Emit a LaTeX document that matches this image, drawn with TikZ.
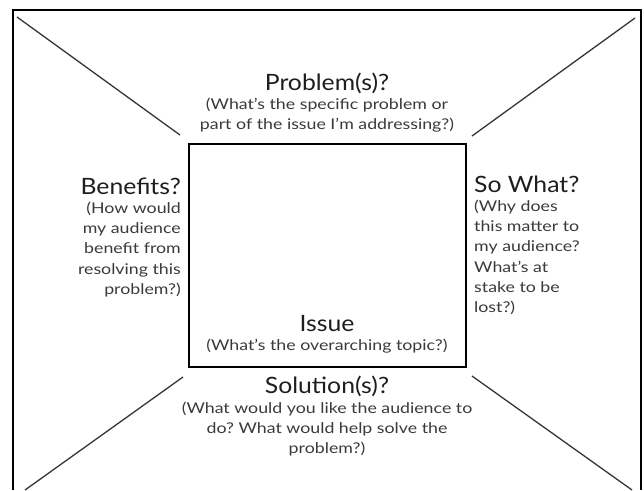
\documentclass[tikz,border=0pt]{standalone}
\usepackage{fontspec}
\setmainfont{Lato}[FakeStretch=1.2]
\newfontfamily\headfont{Lato}[FakeStretch=1.1]
\usetikzlibrary{positioning}
\definecolor{inkdark}{HTML}{1E1E1E}
\definecolor{inkgray}{HTML}{3A3A3A}
\frenchspacing
\tikzset{
  heading/.style={inner sep=0pt, font=\headfont\fontsize{22.5}{26}\selectfont, text=inkdark},
  note/.style={inner sep=0pt, font=\fontsize{14.8}{20.2}\selectfont, text=inkgray},
  spoke/.style={draw=inkdark!90, line width=1.3pt},
}

\begin{document}
\begin{tikzpicture}[x=1pt,y=-1pt]
\useasboundingbox (0,0) rectangle (644,490);
% frame, open at the bottom
\draw[line width=1.6pt] (13,490) -- (13,10) -- (641,10) -- (641,490);

\node[draw, line width=1.2pt, minimum width=277pt, minimum height=223pt] (issue) at (327.5,255.5) {};

\coordinate (tlout) at (17,17);
\coordinate (tlin) at (180,135);
\coordinate (trout) at (635,18);
\coordinate (trin) at (472,136);
\coordinate (blout) at (25,490);
\coordinate (blin) at (183,377);
\coordinate (brout) at (632,490);
\coordinate (brin) at (472,376);

\draw[spoke] (tlout) -- (tlin);
\draw[spoke] (trout) -- (trin);
\draw[spoke] (blout) -- (blin);
\draw[spoke] (brout) -- (brin);

\node[heading, anchor=base] (problem) at (327,90) {Problem(s)?};
\node[note, align=center, below=4.5pt of problem] (problemnote) {(What’s the specific problem or\\part of the issue I’m addressing?)};

\node[heading, anchor=base east] (benefits) at (181,194) {Benefits?};
\node[note, align=right, below left=7.5pt and 0pt of benefits.south east] (benefitsnote) {(How would\\my audience\\benefit from\\resolving this\\problem?)};

\node[heading, anchor=base west] (sowhat) at (474,192) {So What?};
\node[note, align=left, below right=7.5pt and 0pt of sowhat.south west] (sowhatnote) {(Why does\\this matter to\\my audience?\\What’s at\\stake to be\\lost?)};

\node[heading, anchor=base] (issuetitle) at (327,331) {Issue};
\node[note, align=center, below=7.5pt of issuetitle] (issuenote) {(What’s the overarching topic?)};

\node[heading, anchor=base] (solution) at (327,393) {Solution(s)?};
\node[note, align=center, below=5pt of solution] (solutionnote) {(What would you like the audience to\\do? What would help solve the\\problem?)};
\end{tikzpicture}
\end{document}
